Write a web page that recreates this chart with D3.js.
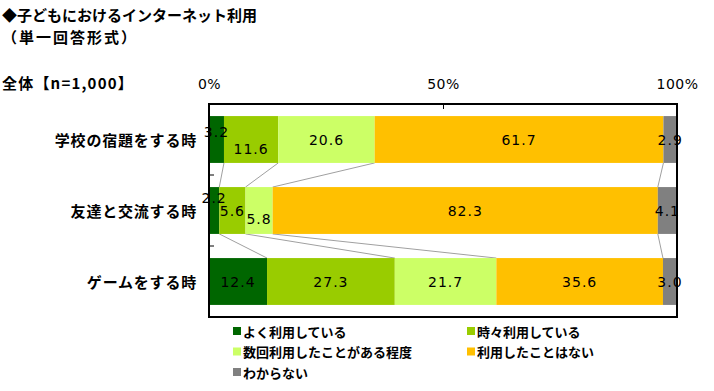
<!DOCTYPE html>
<html>
<head>
<meta charset="utf-8">
<script src="https://cdn.jsdelivr.net/npm/d3@7"></script>
<style>
  body { margin: 0; background: #fff; }
  svg { display: block; }
  .jp { font-family: "Noto Sans CJK JP", sans-serif; font-weight: bold; fill: #000; }
  .num { font-family: "DejaVu Sans", sans-serif; font-size: 14px; fill: #000; letter-spacing: 1px; }
</style>
</head>
<body>
<div id="chart"></div>
<script>
// Children's internet use, single answer, n=1,000
const categories = ['学校の宿題をする時', '友達と交流する時', 'ゲームをする時'];
const seriesNames = ['よく利用している', '時々利用している', '数回利用したことがある程度', '利用したことはない', 'わからない'];
const seriesColors = ['#006600', '#99CC00', '#CCFF66', '#FFC000', '#808080'];
const values = [
  [3.2, 11.6, 20.6, 61.7, 2.9],
  [2.2, 5.6, 5.8, 82.3, 4.1],
  [12.4, 27.3, 21.7, 35.6, 3.0]
];
const tickValues = [0, 50, 100];

// small vertical nudges for crowded labels (row, segment) -> px
const labelNudge = { '0-0': -8, '0-1': 9, '1-0': -13, '1-2': 8 };

const width = 714, height = 391;
const svg = d3.select('#chart').append('svg')
  .attr('width', width)
  .attr('height', height);

const x = d3.scaleLinear().domain([0, 100]).range([209, 677]);
const y = d3.scaleBand().domain(categories).range([104, 317])
  .paddingInner(0.34).paddingOuter(0.17);

// titles
svg.append('text').attr('class', 'jp').attr('x', 2).attr('y', 21)
  .style('font-size', '15px').text('◆子どもにおけるインターネット利用');
svg.append('text').attr('class', 'jp').attr('x', 2).attr('y', 43)
  .style('font-size', '15px').style('letter-spacing', '2px').text('（単一回答形式）');
svg.append('text').attr('class', 'jp').attr('x', 2).attr('y', 89)
  .style('font-size', '15px').style('letter-spacing', '1.2px').text('全体【n=1,000】');

// stacked rows
const rows = values.map((vals, i) => {
  let acc = 0;
  return vals.map((v, j) => {
    const seg = { cat: categories[i], row: i, idx: j, v, x0: acc, x1: acc + v };
    acc += v;
    return seg;
  });
});

// connector lines between consecutive bars
const connectors = [];
for (let i = 0; i < rows.length - 1; i++) {
  for (let j = 0; j < 4; j++) {
    connectors.push({ a: rows[i][j].x1, b: rows[i + 1][j].x1, ya: y(categories[i]) + y.bandwidth(), yb: y(categories[i + 1]) });
  }
}
svg.append('g').selectAll('line').data(connectors).enter().append('line')
  .attr('x1', d => x(d.a)).attr('y1', d => d.ya)
  .attr('x2', d => x(d.b)).attr('y2', d => d.yb)
  .attr('stroke', '#a0a0a0').attr('stroke-width', 1);

const segs = rows.flat();
svg.append('g').selectAll('rect').data(segs).enter().append('rect')
  .attr('x', d => x(d.x0))
  .attr('y', d => y(d.cat))
  .attr('width', d => x(d.x1) - x(d.x0))
  .attr('height', y.bandwidth())
  .attr('fill', d => seriesColors[d.idx]);

svg.append('g').selectAll('text').data(segs).enter().append('text')
  .attr('class', 'num')
  .attr('x', d => (x(d.x0) + x(d.x1)) / 2)
  .attr('y', d => y(d.cat) + y.bandwidth() / 2 + (labelNudge[d.row + '-' + d.idx] || 0))
  .attr('text-anchor', 'middle')
  .attr('dominant-baseline', 'central')
  .text(d => d.v.toFixed(1));

// frame
svg.append('rect')
  .attr('x', x(0)).attr('y', 104)
  .attr('width', x(100) - x(0)).attr('height', 213)
  .attr('fill', 'none').attr('stroke', '#000').attr('stroke-width', 2);

// top axis
const topAxis = d3.axisTop(x).tickValues(tickValues)
  .tickSizeInner(-5).tickSizeOuter(0).tickPadding(15)
  .tickFormat(d => d + '%');
const ga = svg.append('g').attr('transform', 'translate(0,104)').call(topAxis);
ga.select('.domain').remove();
ga.selectAll('text').attr('class', 'num').attr('font-family', null).attr('font-size', null)
  .style('letter-spacing', '0.5px');
ga.selectAll('line').attr('stroke', '#000');

// left axis ticks between categories
const bounds = categories.slice(1).map(c => y(c) - y.step() * y.paddingInner() / 2);
svg.append('g').selectAll('line').data(bounds).enter().append('line')
  .attr('x1', x(0)).attr('x2', x(0) + 5)
  .attr('y1', d => d).attr('y2', d => d)
  .attr('stroke', '#000').attr('stroke-width', 1);

// category labels
svg.append('g').selectAll('text').data(categories).enter().append('text')
  .attr('class', 'jp')
  .style('font-size', '15px')
  .style('letter-spacing', '0.8px')
  .attr('x', 197)
  .attr('y', d => y(d) + y.bandwidth() / 2)
  .attr('text-anchor', 'end')
  .attr('dominant-baseline', 'central')
  .text(d => d);

// legend
const legend = svg.append('g').selectAll('g').data(seriesNames).enter().append('g')
  .attr('transform', (d, i) => `translate(${i % 2 === 0 ? 233 : 467},${331 + Math.floor(i / 2) * 20.5})`);
legend.append('rect')
  .attr('x', 0).attr('y', -4).attr('width', 8).attr('height', 8)
  .attr('fill', (d, i) => seriesColors[i]);
legend.append('text')
  .attr('class', 'jp')
  .style('font-size', '13px')
  .attr('x', 10).attr('y', 0)
  .attr('dominant-baseline', 'central')
  .text(d => d);
</script>
</body>
</html>
